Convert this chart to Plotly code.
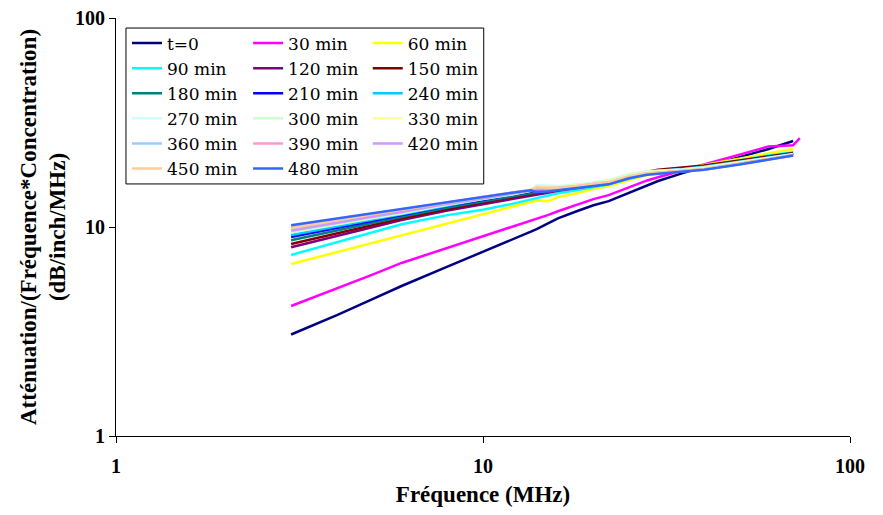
import plotly.graph_objects as go

# frequency points (MHz) shared by all series
freq = [3, 4, 5, 6, 8, 10, 12, 13.5, 14, 15, 16, 18, 20, 22, 25, 28, 30, 35, 40, 50, 60, 70]
freq_30_tail = [73]

att_0 = [3.06, 3.79, 4.52, 5.22, 6.46, 7.59, 8.67, 9.5, 9.78, 10.4, 11.0, 11.9, 12.7, 13.3, 14.6, 15.9, 16.6, 18.1, 19.4, 21.6, 23.6, 25.8]
att_30 = [4.19, 5.08, 5.92, 6.73, 7.94, 9.06, 10.0, 10.7, 11.0, 11.4, 11.9, 12.8, 13.6, 14.2, 15.5, 16.7, 17.3, 18.6, 19.9, 22.2, 24.3, 24.6, 26.6]
att_60 = [6.65, 7.6, 8.42, 9.16, 10.4, 11.5, 12.5, 13.2, 13.4, 13.3, 13.9, 14.5, 15.2, 15.7, 16.8, 17.7, 18.1, 19.0, 19.8, 21.3, 22.6, 23.6]
att_90 = [7.35, 8.44, 9.41, 10.3, 11.4, 12.1, 12.9, 13.5, 13.8, 14.1, 14.5, 15.0, 15.5, 16.0, 17.0, 17.9, 18.2, 18.8, 19.5, 20.9, 22.0, 22.8]
att_120 = [8.0, 9.08, 10.0, 10.8, 12.0, 12.8, 13.6, 14.1, 14.3, 14.6, 14.9, 15.4, 15.8, 16.2, 17.2, 18.0, 18.4, 18.9, 19.4, 20.6, 21.6, 22.4]
att_150 = [8.3, 9.35, 10.25, 11.0, 12.2, 13.1, 13.9, 14.4, 14.6, 14.8, 15.1, 15.6, 16.1, 16.5, 17.5, 18.4, 18.8, 19.3, 19.7, 20.8, 21.8, 22.6]
att_180 = [8.65, 9.65, 10.5, 11.2, 12.4, 13.3, 14.1, 14.6, 14.8, 15.0, 15.2, 15.6, 16.0, 16.4, 17.4, 18.2, 18.5, 19.0, 19.4, 20.5, 21.5, 22.4]
att_210 = [8.95, 9.9, 10.7, 11.4, 12.6, 13.5, 14.3, 14.8, 15.1, 15.2, 15.3, 15.7, 16.1, 16.5, 17.4, 18.2, 18.5, 18.9, 19.3, 20.4, 21.4, 22.3]
att_240 = [9.15, 10.1, 10.85, 11.5, 12.7, 13.6, 14.3, 14.9, 15.4, 15.4, 15.4, 15.8, 16.2, 16.6, 17.6, 18.2, 18.5, 18.9, 19.4, 20.5, 21.5, 22.3]
att_270 = [9.5, 10.4, 11.1, 11.7, 12.8, 13.7, 14.4, 15.0, 15.9, 15.8, 15.7, 16.0, 16.3, 16.8, 17.9, 18.5, 18.6, 18.9, 19.3, 20.4, 21.5, 22.3]
att_300 = [9.4, 10.3, 11.0, 11.6, 12.8, 13.6, 14.3, 14.9, 15.7, 15.6, 15.6, 15.9, 16.2, 16.7, 17.8, 18.4, 18.5, 18.8, 19.2, 20.3, 21.4, 22.2]
att_330 = [9.7, 10.6, 11.3, 11.9, 13.0, 13.8, 14.5, 15.0, 15.6, 15.5, 15.5, 15.8, 16.1, 16.6, 17.6, 18.3, 18.4, 18.7, 19.1, 20.2, 21.3, 22.2]
att_360 = [9.8, 10.7, 11.4, 12.0, 13.0, 13.8, 14.5, 15.0, 15.3, 15.3, 15.4, 15.7, 16.0, 16.4, 17.4, 18.1, 18.2, 18.5, 18.9, 20.1, 21.2, 22.1]
att_390 = [9.95, 10.8, 11.5, 12.0, 13.1, 13.9, 14.6, 15.0, 15.2, 15.2, 15.3, 15.6, 16.0, 16.3, 17.3, 18.0, 18.2, 18.5, 18.9, 20.1, 21.2, 22.0]
att_420 = [9.6, 10.5, 11.2, 11.8, 12.9, 13.7, 14.4, 14.9, 15.1, 15.1, 15.2, 15.5, 15.9, 16.2, 17.2, 17.9, 18.1, 18.4, 18.8, 20.0, 21.1, 22.0]
att_450 = [9.9, 10.8, 11.5, 12.1, 13.1, 13.9, 14.6, 15.0, 15.5, 15.4, 15.4, 15.7, 16.0, 16.4, 17.5, 18.1, 18.2, 18.5, 18.9, 20.0, 21.1, 22.0]
att_480 = [10.2, 11.0, 11.6, 12.2, 13.2, 13.9, 14.6, 15.0, 14.7, 14.8, 15.0, 15.3, 15.7, 16.0, 17.1, 17.8, 18.0, 18.4, 18.8, 19.9, 21.0, 22.0]

names = ['t=0', '30 min', '60 min', '90 min', '120 min', '150 min', '180 min', '210 min', '240 min',
         '270 min', '300 min', '330 min', '360 min', '390 min', '420 min', '450 min', '480 min']
series = [att_0, att_30, att_60, att_90, att_120, att_150, att_180, att_210, att_240,
          att_270, att_300, att_330, att_360, att_390, att_420, att_450, att_480]
colors = ['#000080', '#FF00FF', '#FFFF00', '#00FFFF', '#800080', '#800000', '#008080', '#0000FF', '#00CCFF',
          '#CCFFFF', '#CCFFCC', '#FFFF99', '#99CCFF', '#FF99CC', '#CC99FF', '#FFCC99', '#3366FF']

FONT = 'Liberation Serif'
LEG_FONT = 'DejaVu Serif'

fig = go.Figure()
for i, (name, vals, col) in enumerate(zip(names, series, colors)):
    xs = freq + freq_30_tail if len(vals) > len(freq) else freq
    leg = ['legend', 'legend2', 'legend3'][i % 3]
    fig.add_trace(go.Scatter(x=xs, y=vals, mode='lines', name=name, legend=leg,
                             line=dict(color=col, width=2.5)))

leg_common = dict(bgcolor='rgba(0,0,0,0)', borderwidth=0, yanchor='top', y=0.982, xanchor='left',
                  font=dict(family=LEG_FONT, size=17, color='black'), tracegroupgap=0)

# page body adds ~8px offset, so margins are shifted to compensate
fig.update_layout(
    width=883, height=515,
    margin=dict(l=108, r=41, t=10, b=87, autoexpand=False),
    paper_bgcolor='white', plot_bgcolor='white',
    font=dict(family=FONT, color='black'),
    legend=dict(leg_common, x=0.015),
    legend2=dict(leg_common, x=0.18),
    legend3=dict(leg_common, x=0.343),
    shapes=[dict(type='rect', xref='paper', yref='paper', x0=0.0136, x1=0.501, y0=0.603, y1=0.976,
                 line=dict(color='black', width=1), fillcolor='white', layer='above')],
    xaxis=dict(type='log', range=[0, 2], tickvals=[1, 10, 100], ticktext=['1', '10', '100'],
               showline=True, linecolor='black', linewidth=1, ticks='outside', ticklen=6, tickcolor='black',
               showgrid=False, zeroline=False, ticklabelstandoff=6, automargin=False,
               ticklabeloverflow='allow',
               tickfont=dict(family=FONT, size=20, weight='bold'),
               title=dict(text='Fréquence (MHz)', font=dict(family=FONT, size=23, weight='bold'), standoff=9)),
    yaxis=dict(type='log', range=[0, 2], tickvals=[1, 10, 100], ticktext=['1', '10', '100'],
               showline=True, linecolor='black', linewidth=1, ticks='outside', ticklen=6, tickcolor='black',
               showgrid=False, zeroline=False, ticklabelstandoff=0, automargin=False,
               ticklabeloverflow='allow',
               tickfont=dict(family=FONT, size=20, weight='bold'),
               title=dict(text='Atténuation/(Fréquence*Concentration)<br>(dB/inch/MHz)',
                          font=dict(family=FONT, size=23, weight='bold'), standoff=2)),
)

fig.write_html("out.html")
